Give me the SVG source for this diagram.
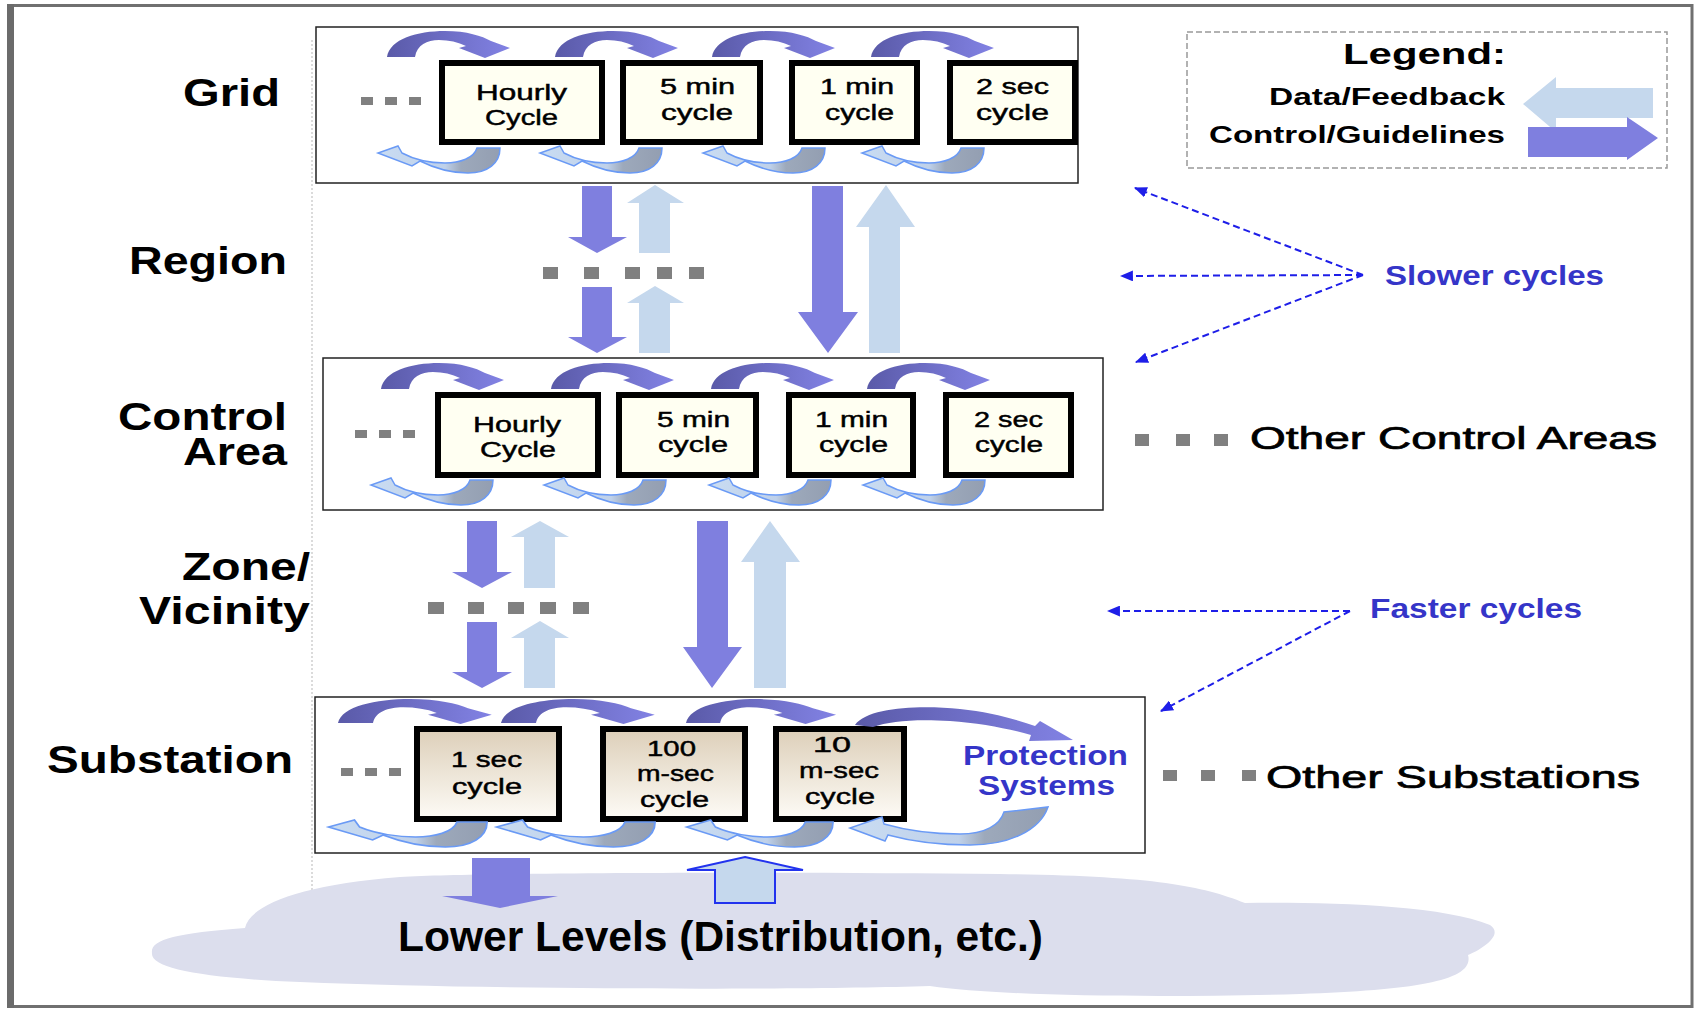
<svg xmlns="http://www.w3.org/2000/svg" xmlns:xlink="http://www.w3.org/1999/xlink" width="1697" height="1010" viewBox="0 0 1697 1010">
  <style>
    text { font-family: "Liberation Sans", Arial, sans-serif; }
    .lvl { font-size: 38px; font-weight: bold; fill: #000; }
    .cyc { font-size: 22px; fill: #000; stroke: #000; stroke-width: 0.45; text-anchor: start; }
    .blue { font-size: 27px; font-weight: bold; fill: #3535c8; }
    .other { font-size: 31px; fill: #000; stroke: #000; stroke-width: 0.7; }
    .leg { font-size: 24px; font-weight: bold; fill: #000; }
    .panel { fill: #fff; stroke: #222; stroke-width: 1.5; }
    .box { fill: #fffff2; stroke: #000; stroke-width: 6; }
    .sbox { fill: url(#tan); stroke: #000; stroke-width: 6; }
    .ctrl { fill: #7f7fdf; }
    .data { fill: #c5d8ed; }
    .dot { fill: #808080; }
    .hint { fill: none; stroke: #1e1ee8; stroke-width: 2; stroke-dasharray: 7 4; marker-end: url(#tip); }
    .loopTop { fill: url(#topGrad); }
    .loopBot { fill: url(#botGrad); stroke: #6a9af5; stroke-width: 1.5; }
  </style>
  <defs>
    <linearGradient id="topGrad" x1="0" y1="0" x2="1" y2="0">
      <stop offset="0" stop-color="#5a5aa8"/>
      <stop offset="1" stop-color="#8282e4"/>
    </linearGradient>
    <linearGradient id="botGrad" x1="0" y1="0" x2="1" y2="0">
      <stop offset="0" stop-color="#c9dcf2"/>
      <stop offset="0.55" stop-color="#bfd1ea"/>
      <stop offset="0.68" stop-color="#9da9bb"/>
      <stop offset="1" stop-color="#939eb1"/>
    </linearGradient>
    <linearGradient id="tan" x1="0" y1="0" x2="0" y2="1">
      <stop offset="0" stop-color="#ddcfb9"/>
      <stop offset="1" stop-color="#fdfbf6"/>
    </linearGradient>
    <marker id="tip" viewBox="0 0 12 10" refX="11" refY="5" markerWidth="13" markerHeight="11" markerUnits="userSpaceOnUse" orient="auto">
      <path d="M0,0 L12,5 L0,10 z" fill="#1e1ee8"/>
    </marker>
    <!-- forward (control) loop arrow, origin at left foot -->
    <path id="arcTop" d="M0,0 C3,-18 30,-26 58,-26 C80,-26 95,-21 104,-16 L123,-9 L98,1 L72,-9 L79,-11 C71,-15 62,-17 52,-17 C40,-17 30,-12 28,0 Z"/>
    <!-- return (feedback) loop arrow, origin at right top -->
    <path id="arcBot" d="M0,0 C0,15 -12,25 -32,25 C-50,25 -66,20 -80,13 L-88,18 L-122,5 L-102,-2 L-98,5 C-85,12 -68,15 -55,15 C-40,15 -26,10 -23,0 Z"/>
  </defs>

  <!-- frame -->
  <rect x="0" y="0" width="1697" height="1010" fill="#fff"/>
  <rect x="10" y="5.5" width="1682" height="1001" fill="none" stroke="#707070" stroke-width="3"/>
  <rect x="7" y="4" width="7" height="1004" fill="#6b6b6b"/>
  <line x1="312" y1="40" x2="312" y2="896" stroke="#cfcfcf" stroke-width="1.5" stroke-dasharray="2 2"/>

  <!-- level labels -->
  <g id="labels">
    <text class="lvl" x="183" y="106" textLength="97" lengthAdjust="spacingAndGlyphs">Grid</text>
    <text class="lvl" x="129" y="274" textLength="158" lengthAdjust="spacingAndGlyphs">Region</text>
    <text class="lvl" x="118" y="430" font-size="37" textLength="169" lengthAdjust="spacingAndGlyphs">Control</text>
    <text class="lvl" x="183" y="465" font-size="37" textLength="104" lengthAdjust="spacingAndGlyphs">Area</text>
    <text class="lvl" x="182" y="580" textLength="128" lengthAdjust="spacingAndGlyphs">Zone/</text>
    <text class="lvl" x="139" y="624" textLength="171" lengthAdjust="spacingAndGlyphs">Vicinity</text>
    <text class="lvl" x="47" y="773" textLength="246" lengthAdjust="spacingAndGlyphs">Substation</text>
  </g>

  <!-- lower levels cloud -->
  <g id="lower-levels">
    <path d="M152,953 C150,940 175,933 245,928 C250,905 300,885 400,877 C500,872 800,872 1000,874 C1150,876 1200,885 1245,903 C1330,902 1440,905 1490,925 C1505,935 1480,950 1468,955 C1475,980 1420,990 1300,994 C1150,998 1000,996 930,986 C800,990 500,990 300,982 C200,978 150,968 152,953 Z" fill="#dcdeed"/>
    <text x="398" y="951" font-size="42" font-weight="bold" textLength="645" lengthAdjust="spacingAndGlyphs">Lower Levels (Distribution, etc.)</text>
  </g>

  <!-- Grid level -->
  <g id="grid">
    <rect class="panel" x="316" y="27" width="762" height="156"/>
    <rect class="dot" x="361" y="97" width="12" height="8"/>
    <rect class="dot" x="385" y="97" width="12" height="8"/>
    <rect class="dot" x="409" y="97" width="12" height="8"/>
    <g id="grid-hourly">
      <rect class="box" x="442" y="63" width="160" height="79"/>
      <text class="cyc" x="476" y="100" textLength="91" lengthAdjust="spacingAndGlyphs">Hourly</text>
      <text class="cyc" x="485" y="125" textLength="73" lengthAdjust="spacingAndGlyphs">Cycle</text>
    </g>
    <g id="grid-5min">
      <rect class="box" x="623" y="63" width="137" height="79"/>
      <text class="cyc" x="660" y="94" textLength="75" lengthAdjust="spacingAndGlyphs">5 min</text>
      <text class="cyc" x="661" y="120" textLength="72" lengthAdjust="spacingAndGlyphs">cycle</text>
    </g>
    <g id="grid-1min">
      <rect class="box" x="792" y="63" width="125" height="79"/>
      <text class="cyc" x="820" y="94" textLength="74" lengthAdjust="spacingAndGlyphs">1 min</text>
      <text class="cyc" x="825" y="120" textLength="69" lengthAdjust="spacingAndGlyphs">cycle</text>
    </g>
    <g id="grid-2sec">
      <rect class="box" x="950" y="63" width="125" height="79"/>
      <text class="cyc" x="976" y="94" textLength="73" lengthAdjust="spacingAndGlyphs">2 sec</text>
      <text class="cyc" x="976" y="120" textLength="73" lengthAdjust="spacingAndGlyphs">cycle</text>
    </g>
    <use href="#arcTop" class="loopTop" transform="translate(387,57)"/>
    <use href="#arcTop" class="loopTop" transform="translate(555,57)"/>
    <use href="#arcTop" class="loopTop" transform="translate(712,57)"/>
    <use href="#arcTop" class="loopTop" transform="translate(871,57)"/>
    <use href="#arcBot" class="loopBot" transform="translate(500,148)"/>
    <use href="#arcBot" class="loopBot" transform="translate(662,148)"/>
    <use href="#arcBot" class="loopBot" transform="translate(825,148)"/>
    <use href="#arcBot" class="loopBot" transform="translate(984,148)"/>
  </g>

  <!-- Control Area level -->
  <g id="control-area">
    <rect class="panel" x="323" y="358" width="780" height="152"/>
    <rect class="dot" x="355" y="430" width="12" height="8"/>
    <rect class="dot" x="379" y="430" width="12" height="8"/>
    <rect class="dot" x="403" y="430" width="12" height="8"/>
    <g id="ca-hourly">
      <rect class="box" x="438" y="395" width="160" height="80"/>
      <text class="cyc" x="473" y="432" textLength="88" lengthAdjust="spacingAndGlyphs">Hourly</text>
      <text class="cyc" x="480" y="457" textLength="76" lengthAdjust="spacingAndGlyphs">Cycle</text>
    </g>
    <g id="ca-5min">
      <rect class="box" x="619" y="395" width="137" height="80"/>
      <text class="cyc" x="657" y="427" textLength="73" lengthAdjust="spacingAndGlyphs">5 min</text>
      <text class="cyc" x="658" y="452" textLength="70" lengthAdjust="spacingAndGlyphs">cycle</text>
    </g>
    <g id="ca-1min">
      <rect class="box" x="789" y="395" width="124" height="80"/>
      <text class="cyc" x="815" y="427" textLength="73" lengthAdjust="spacingAndGlyphs">1 min</text>
      <text class="cyc" x="819" y="452" textLength="69" lengthAdjust="spacingAndGlyphs">cycle</text>
    </g>
    <g id="ca-2sec">
      <rect class="box" x="946" y="395" width="125" height="80"/>
      <text class="cyc" x="974" y="427" textLength="69" lengthAdjust="spacingAndGlyphs">2 sec</text>
      <text class="cyc" x="975" y="452" textLength="68" lengthAdjust="spacingAndGlyphs">cycle</text>
    </g>
    <use href="#arcTop" class="loopTop" transform="translate(381,389)"/>
    <use href="#arcTop" class="loopTop" transform="translate(551,389)"/>
    <use href="#arcTop" class="loopTop" transform="translate(711,389)"/>
    <use href="#arcTop" class="loopTop" transform="translate(867,389)"/>
    <use href="#arcBot" class="loopBot" transform="translate(493,480)"/>
    <use href="#arcBot" class="loopBot" transform="translate(666,480)"/>
    <use href="#arcBot" class="loopBot" transform="translate(831,480)"/>
    <use href="#arcBot" class="loopBot" transform="translate(985,480)"/>
  </g>

  <!-- Substation level -->
  <g id="substation">
    <rect class="panel" x="315" y="697" width="830" height="156"/>
    <rect class="dot" x="341" y="768" width="12" height="8"/>
    <rect class="dot" x="365" y="768" width="12" height="8"/>
    <rect class="dot" x="389" y="768" width="12" height="8"/>
    <g id="ss-1sec">
      <rect class="sbox" x="417" y="729" width="142" height="90"/>
      <text class="cyc" x="451" y="767" textLength="71" lengthAdjust="spacingAndGlyphs">1 sec</text>
      <text class="cyc" x="452" y="794" textLength="70" lengthAdjust="spacingAndGlyphs">cycle</text>
    </g>
    <g id="ss-100ms">
      <rect class="sbox" x="603" y="729" width="142" height="90"/>
      <text class="cyc" x="647" y="756" textLength="49" lengthAdjust="spacingAndGlyphs">100</text>
      <text class="cyc" x="637" y="781" textLength="77" lengthAdjust="spacingAndGlyphs">m-sec</text>
      <text class="cyc" x="640" y="807" textLength="69" lengthAdjust="spacingAndGlyphs">cycle</text>
    </g>
    <g id="ss-10ms">
      <rect class="sbox" x="776" y="729" width="128" height="90"/>
      <text class="cyc" x="813" y="752" textLength="38" lengthAdjust="spacingAndGlyphs">10</text>
      <text class="cyc" x="799" y="778" textLength="80" lengthAdjust="spacingAndGlyphs">m-sec</text>
      <text class="cyc" x="805" y="804" textLength="70" lengthAdjust="spacingAndGlyphs">cycle</text>
    </g>
    <g id="ss-protection">
      <path class="loopTop" d="M855,725 C868,707 920,705 960,709 C990,712 1015,719 1035,726 L1040,721 L1073,740 L1029,741 L1031,735 C1010,729 980,723 950,721 C915,719 890,721 873,727 Z"/>
      <path class="loopBot" d="M1048,807 C1040,830 1010,845 970,845 C940,845 910,841 888,835 L885,841 L850,828 L882,817 L884,824 C905,830 930,834 960,834 C985,834 1000,825 1004,812 Z"/>
      <text class="blue" x="963" y="765" textLength="165" lengthAdjust="spacingAndGlyphs">Protection</text>
      <text class="blue" x="978" y="795" textLength="137" lengthAdjust="spacingAndGlyphs">Systems</text>
    </g>
    <use href="#arcTop" class="loopTop" transform="translate(338,723) scale(1.25,0.92)"/>
    <use href="#arcTop" class="loopTop" transform="translate(501,723) scale(1.25,0.92)"/>
    <use href="#arcTop" class="loopTop" transform="translate(686,723) scale(1.22,0.92)"/>
    <use href="#arcBot" class="loopBot" transform="translate(487,822) scale(1.3,1)" vector-effect="non-scaling-stroke"/>
    <use href="#arcBot" class="loopBot" transform="translate(655,822) scale(1.3,1)" vector-effect="non-scaling-stroke"/>
    <use href="#arcBot" class="loopBot" transform="translate(833,822) scale(1.2,1)" vector-effect="non-scaling-stroke"/>
  </g>

  <!-- flows between levels -->
  <g id="connectors">
    <!-- Grid <-> Control Area -->
    <polygon class="ctrl" points="582,186 612,186 612,237 627,237 597,253 568,237 582,237"/>
    <polygon class="data" points="655,185 684,203 670,203 670,253 639,253 639,203 627,203"/>
    <polygon class="ctrl" points="582,287 612,287 612,337 627,337 597,353 568,337 582,337"/>
    <polygon class="data" points="655,286 684,303 670,303 670,353 639,353 639,303 627,303"/>
    <rect class="dot" x="543" y="267" width="15" height="12"/>
    <rect class="dot" x="584" y="267" width="15" height="12"/>
    <rect class="dot" x="625" y="267" width="15" height="12"/>
    <rect class="dot" x="657" y="267" width="15" height="12"/>
    <rect class="dot" x="689" y="267" width="15" height="12"/>
    <polygon class="ctrl" points="812,186 843,186 843,312 858,312 828,353 798,312 812,312"/>
    <polygon class="data" points="886,185 915,227 900,227 900,353 869,353 869,227 856,227"/>
    <!-- Control Area <-> Substation -->
    <polygon class="ctrl" points="467,521 497,521 497,572 512,572 482,588 452,572 467,572"/>
    <polygon class="data" points="540,521 569,537 555,537 555,588 524,588 524,537 511,537"/>
    <polygon class="ctrl" points="467,622 497,622 497,672 512,672 482,688 452,672 467,672"/>
    <polygon class="data" points="540,621 569,638 555,638 555,688 524,688 524,638 511,638"/>
    <rect class="dot" x="428" y="602" width="16" height="12"/>
    <rect class="dot" x="468" y="602" width="16" height="12"/>
    <rect class="dot" x="508" y="602" width="16" height="12"/>
    <rect class="dot" x="540" y="602" width="16" height="12"/>
    <rect class="dot" x="573" y="602" width="16" height="12"/>
    <polygon class="ctrl" points="697,521 728,521 728,647 742,647 712,688 683,647 697,647"/>
    <polygon class="data" points="770,521 800,562 786,562 786,688 754,688 754,562 741,562"/>
    <!-- Substation <-> lower levels -->
    <polygon class="ctrl" points="472,858 530,858 530,896 558,896 500,908 442,896 472,896"/>
    <polygon class="data" points="745,857 803,870 775,870 775,903 715,903 715,870 687,870" stroke="#2233ee" stroke-width="2"/>
  </g>

  <!-- side notes -->
  <g id="slower">
    <line class="hint" x1="1363" y1="275" x2="1135" y2="188"/>
    <line class="hint" x1="1363" y1="275" x2="1121" y2="276"/>
    <line class="hint" x1="1363" y1="275" x2="1136" y2="362"/>
    <text class="blue" x="1385" y="285" font-size="26" textLength="219" lengthAdjust="spacingAndGlyphs">Slower cycles</text>
  </g>
  <g id="faster">
    <line class="hint" x1="1350" y1="611" x2="1108" y2="611"/>
    <line class="hint" x1="1350" y1="611" x2="1161" y2="711"/>
    <text class="blue" x="1370" y="618" font-size="26" textLength="212" lengthAdjust="spacingAndGlyphs">Faster cycles</text>
  </g>
  <g id="other-control-areas">
    <rect class="dot" x="1135" y="434" width="14" height="12"/>
    <rect class="dot" x="1176" y="434" width="14" height="12"/>
    <rect class="dot" x="1214" y="434" width="14" height="12"/>
    <text class="other" x="1250" y="449" textLength="407" lengthAdjust="spacingAndGlyphs">Other Control Areas</text>
  </g>
  <g id="other-substations">
    <rect class="dot" x="1163" y="770" width="14" height="11"/>
    <rect class="dot" x="1201" y="770" width="14" height="11"/>
    <rect class="dot" x="1242" y="770" width="14" height="11"/>
    <text class="other" x="1266" y="788" textLength="374" lengthAdjust="spacingAndGlyphs">Other Substations</text>
  </g>

  <!-- legend -->
  <g id="legend">
    <rect x="1187" y="32" width="480" height="136" fill="none" stroke="#999" stroke-width="1.5" stroke-dasharray="6 3"/>
    <text x="1343" y="64" font-size="29" font-weight="bold" textLength="163" lengthAdjust="spacingAndGlyphs">Legend:</text>
    <text class="leg" x="1269" y="105" textLength="236" lengthAdjust="spacingAndGlyphs">Data/Feedback</text>
    <text class="leg" x="1209" y="143" textLength="296" lengthAdjust="spacingAndGlyphs">Control/Guidelines</text>
    <polygon class="data" points="1523,104 1556,77 1556,88 1653,88 1653,118 1556,118 1556,132"/>
    <polygon class="ctrl" points="1528,127 1627,127 1627,117 1658,138 1627,160 1627,157 1528,157"/>
  </g>
</svg>
